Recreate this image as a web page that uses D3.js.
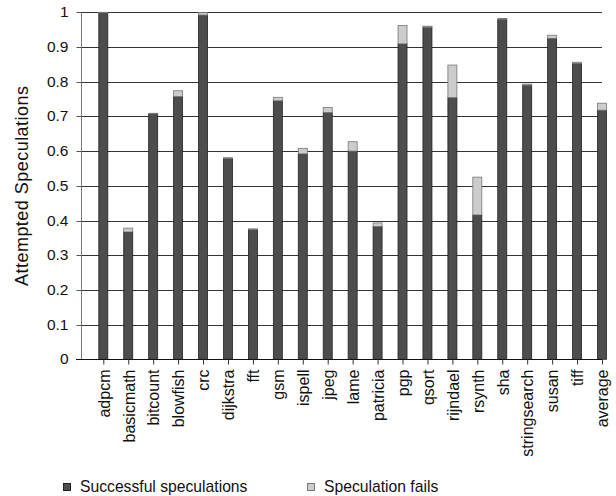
<!DOCTYPE html>
<html>
<head>
<meta charset="utf-8">
<script src="https://cdn.jsdelivr.net/npm/d3@7"></script>
<style>
  html, body { margin: 0; padding: 0; background: #fff; }
  svg { display: block; font-family: "Liberation Sans", Arial, Helvetica, sans-serif; }
</style>
</head>
<body>
<svg id="chart" width="616" height="496"></svg>
<script>
const categories = ["adpcm","basicmath","bitcount","blowfish","crc","dijkstra","fft","gsm","ispell","jpeg","lame","patricia","pgp","qsort","rijndael","rsynth","sha","stringsearch","susan","tiff","average"];
const successful = [0.998,0.367,0.707,0.757,0.992,0.579,0.374,0.745,0.592,0.711,0.600,0.383,0.909,0.957,0.754,0.416,0.980,0.790,0.925,0.853,0.718];
const fails      = [0.002,0.011,0.002,0.017,0.007,0.002,0.002,0.010,0.016,0.015,0.027,0.010,0.053,0.003,0.094,0.109,0.002,0.003,0.009,0.003,0.020];
const yTicks = [0,0.1,0.2,0.3,0.4,0.5,0.6,0.7,0.8,0.9,1];
const yTickLabels = ["0","0.1","0.2","0.3","0.4","0.5","0.6","0.7","0.8","0.9","1"];
const seriesNames = ["Successful speculations","Speculation fails"];

const svg = d3.select("#chart");
const plotLeft = 81, plotRight = 602, plotTop = 12.3, plotBottom = 359.3;

const y = d3.scaleLinear().domain([0,1]).range([plotBottom, plotTop]);
const x = d3.scalePoint().domain(categories).range([103.3, 602]);
const barW = 9;

// gridlines
svg.append("g").selectAll("line").data(yTicks.slice(1)).join("line")
  .attr("x1", plotLeft).attr("x2", plotRight)
  .attr("y1", d => Math.round(y(d)) + 0.5).attr("y2", d => Math.round(y(d)) + 0.5)
  .attr("stroke", "#333").attr("stroke-width", 1);

// y axis
const yAxis = d3.axisLeft(y).tickValues(yTicks).tickFormat((d,i) => yTickLabels[i]).tickSize(5).tickPadding(8);
const gy = svg.append("g").attr("transform", `translate(${plotLeft + 0.5},0)`).call(yAxis);
gy.select(".domain").attr("stroke", "#777").attr("d", `M0,${plotTop}V${Math.round(plotBottom)+0.5}`);
gy.selectAll(".tick line").attr("stroke", "#555");
gy.selectAll(".tick text").attr("font-size", 15.5).attr("fill", "#111").attr("font-family", "Liberation Sans, Arial, sans-serif");
gy.selectAll(".tick").attr("transform", d => `translate(0,${Math.round(y(d)) + 0.5})`);

// stacked bars
const stackData = categories.map((c,i) => ({cat: c, s: successful[i], f: fails[i]}));
const stack = d3.stack().keys(["s","f"])(stackData);
const fills = ["#4d4d4d", "#cccccc"];
const strokes = ["#222", "#777"];
stack.forEach((layer, li) => {
  svg.append("g").selectAll("rect").data(layer).join("rect")
    .attr("x", d => x(d.data.cat) - barW/2)
    .attr("y", d => y(d[1]))
    .attr("width", barW)
    .attr("height", d => Math.max(0, y(d[0]) - y(d[1])))
    .attr("fill", fills[li])
    .attr("stroke", strokes[li])
    .attr("stroke-width", 0.8);
});

// x axis
const xAxis = d3.axisBottom(x).tickSize(5).tickSizeOuter(0);
const gx = svg.append("g").attr("transform", `translate(0,${Math.round(plotBottom)+0.5})`).call(xAxis);
gx.select(".domain").attr("stroke", "#111").attr("d", `M${plotLeft - 5},0H${plotRight}`);
gx.selectAll(".tick line").attr("stroke", "#333");
gx.selectAll(".tick text")
  .attr("font-size", 16).attr("fill", "#111").attr("font-family", "Liberation Sans, Arial, sans-serif")
  .attr("text-anchor", "end")
  .attr("transform", "rotate(-90)")
  .attr("x", -10).attr("y", 0).attr("dy", "0.36em");

// y title
svg.append("text")
  .attr("transform", "translate(28,186) rotate(-90)")
  .attr("text-anchor", "middle")
  .attr("font-size", 18).attr("fill", "#111")
  .attr("textLength", 200).attr("lengthAdjust", "spacing")
  .text("Attempted Speculations");

// legend
const legX = [63, 307];
seriesNames.forEach((n, i) => {
  svg.append("rect").attr("x", legX[i] + 0.5).attr("y", 483.5).attr("width", 7).attr("height", 7)
    .attr("fill", fills[i]).attr("stroke", strokes[i]).attr("stroke-width", 1);
  svg.append("text").attr("x", legX[i] + 17).attr("y", 492)
    .attr("font-size", 15.7).attr("fill", "#111").text(n);
});
</script>
</body>
</html>
